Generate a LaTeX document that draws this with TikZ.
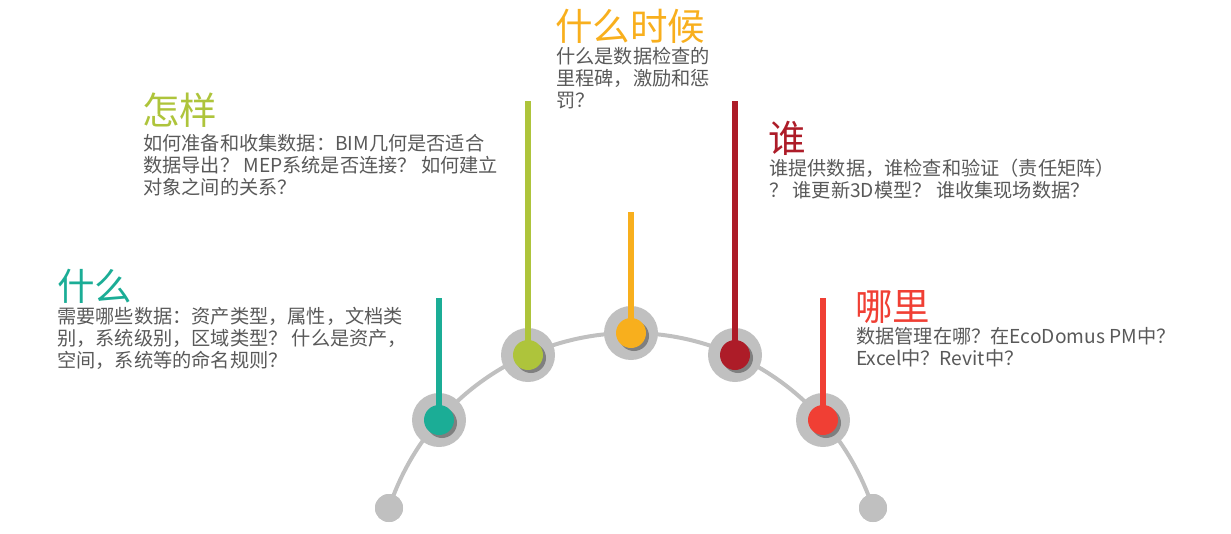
\documentclass[tikz,border=0pt]{standalone}
\usepackage{fontspec}
\setmainfont{Noto Sans CJK SC}
\usepackage{xcolor}
\usepackage{tikz}
\usetikzlibrary{positioning}
\definecolor{tealc}{HTML}{1BAD96}
\definecolor{greenc}{HTML}{AEC43B}
\definecolor{yellowc}{HTML}{F8AF1D}
\definecolor{darkredc}{HTML}{AD1C28}
\definecolor{redc}{HTML}{F03F34}
\definecolor{ringgray}{HTML}{C0C0C0}
\definecolor{shadowgray}{HTML}{7F7F7F}
\definecolor{bodygray}{HTML}{595959}

\begin{document}
\begin{tikzpicture}[x=1pt, y=-1pt,
  ring/.style={circle, fill=ringgray, minimum size=54pt, inner sep=0pt},
  shd/.style={circle, fill=shadowgray, minimum size=30pt, inner sep=0pt},
  dot/.style={circle, minimum size=30pt, inner sep=0pt},
  enddot/.style={circle, fill=ringgray, minimum size=28pt, inner sep=0pt},
  stem/.style={line width=6pt},
  ttl/.style={anchor=base west, inner sep=0pt, font=\fontsize{37.5}{40}\selectfont},
  txt/.style={anchor=base west, inner sep=0pt, align=left, text=bodygray, font=\fontsize{19.2}{22}\selectfont},
]
  \useasboundingbox (0,0) rectangle (1231,533);

  % Arc and end dots
  \node[enddot] (endl) at (389,508) {};
  \node[enddot] (endr) at (873,508) {};
  \draw[line width=4pt, ringgray] (389,508) arc[start angle=161.75, end angle=18.25, radius=254.8pt];
  \node[enddot] at (endl) {};
  \node[enddot] at (endr) {};

  % Rings
  \node[ring] (r1) at (439,420) {};
  \node[ring] (r2) at (528,355) {};
  \node[ring] (r3) at (631,333) {};
  \node[ring] (r4) at (735,355) {};
  \node[ring] (r5) at (823,420) {};

  % Shadows
  \node[shd] (s1) at (442,423) {};
  \node[shd] (s2) at (531,358) {};
  \node[shd] (s3) at (634,336) {};
  \node[shd] (s4) at (738,358) {};
  \node[shd] (s5) at (826,423) {};

  % Stems
  \coordinate (t1) at (439,298);
  \coordinate (t2) at (528,101);
  \coordinate (t3) at (631,212);
  \coordinate (t4) at (735,101);
  \coordinate (t5) at (823,298);
  \draw[stem, tealc] (t1) -- (r1.center);
  \draw[stem, greenc] (t2) -- (r2.center);
  \draw[stem, yellowc] (t3) -- (r3.center);
  \draw[stem, darkredc] (t4) -- (r4.center);
  \draw[stem, redc] (t5) -- (r5.center);

  % Dots
  \node[dot, fill=tealc] (d1) at (r1) {};
  \node[dot, fill=greenc] (d2) at (r2) {};
  \node[dot, fill=yellowc] (d3) at (r3) {};
  \node[dot, fill=darkredc] (d4) at (r4) {};
  \node[dot, fill=redc] (d5) at (r5) {};

  % Titles
  \node[ttl, text=tealc] (what) at (57,300) {什么};
  \node[ttl, text=greenc] (how) at (142,124) {怎样};
  \node[ttl, text=yellowc] (when) at (555,40) {什么时候};
  \node[ttl, text=darkredc] (who) at (768,152) {谁};
  \node[ttl, text=redc] (where) at (855,320) {哪里};

  % Texts (placed at the baseline of the last line)
  \node[txt] (whattxt) at (57,367) {需要哪些数据：资产类型，属性，文档类\\别，系统级别，区域类型？ 什么是资产，\\空间，系统等的命名规则？};
  \node[txt] (howtxt) at (143,194) {如何准备和收集数据：BIM几何是否适合\\数据导出？ MEP系统是否连接？ 如何建立\\对象之间的关系？};
  \node[txt] (whentxt) at (556,107) {什么是数据检查的\\里程碑，激励和惩\\罚？};
  \node[txt] (whotxt) at (769,197) {谁提供数据，谁检查和验证（责任矩阵）\\？ 谁更新3D模型？ 谁收集现场数据？};
  \node[txt] (wheretxt) at (856,365) {数据管理在哪？在EcoDomus PM中？\\Excel中？Revit中？};
\end{tikzpicture}
\end{document}
